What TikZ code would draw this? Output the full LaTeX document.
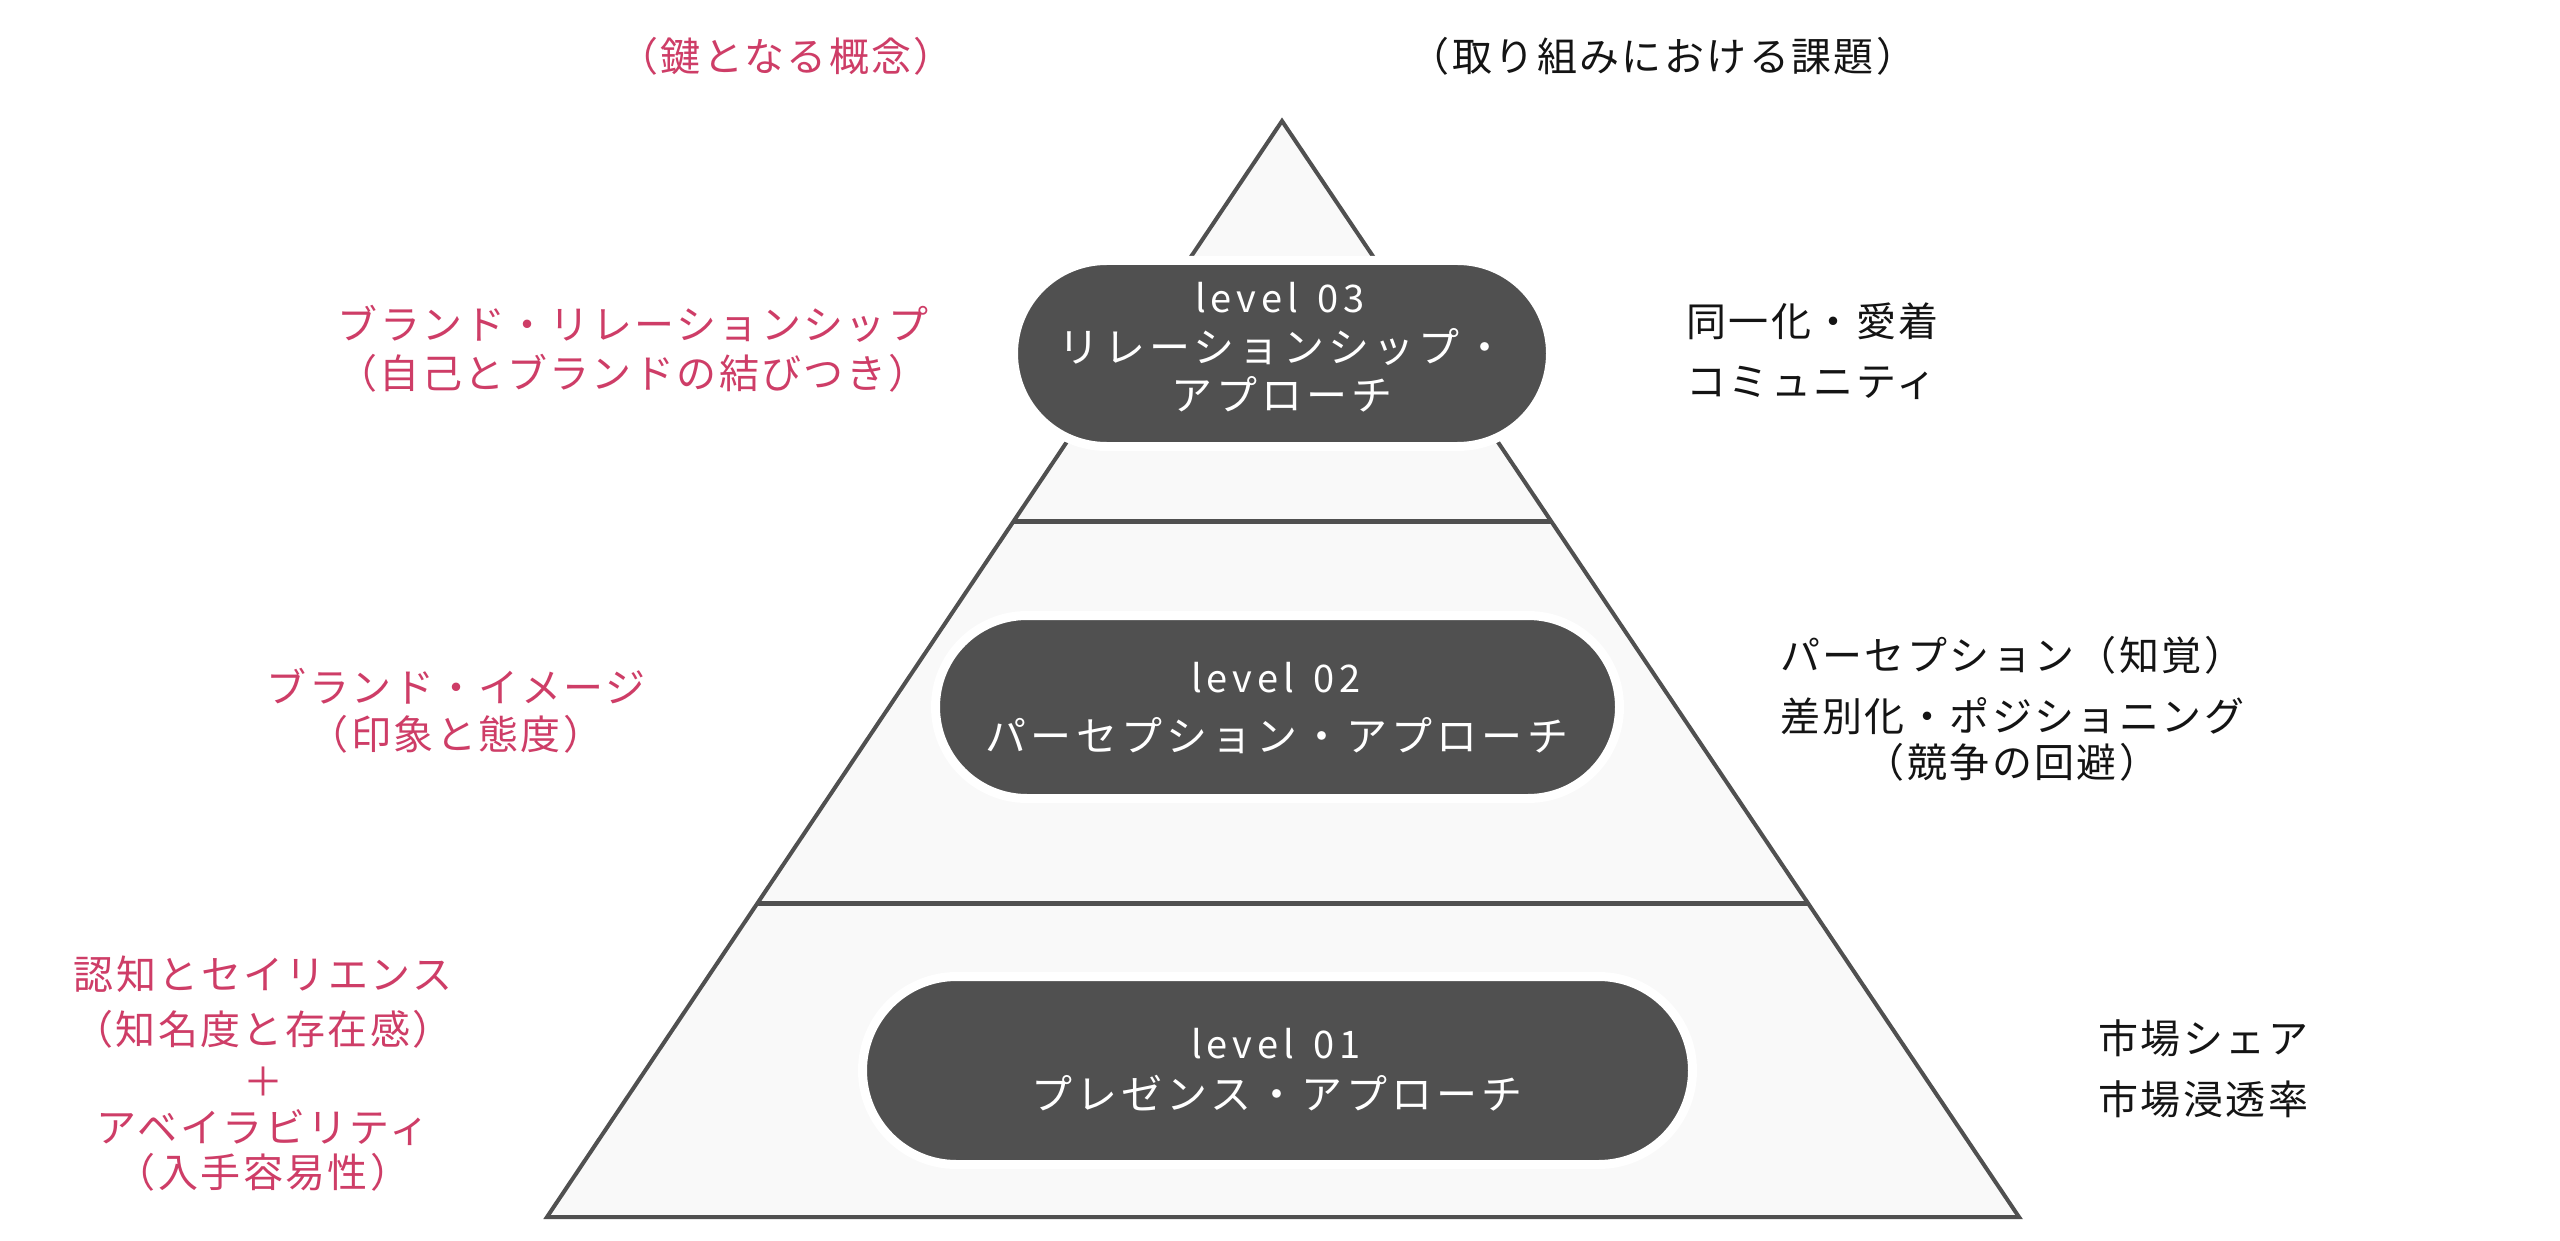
\documentclass[tikz,border=0pt]{standalone}
\usepackage{fontspec}
\setmainfont{Noto Sans CJK JP}
\newfontfamily\jptext[LetterSpace=6]{Noto Sans CJK JP}
\newfontfamily\jpbox[LetterSpace=10]{Noto Sans CJK JP}
\newfontfamily\jplevel[LetterSpace=13]{Noto Sans CJK JP}
\usetikzlibrary{calc}
\definecolor{pinkc}{RGB}{206,61,103}
\definecolor{boxgray}{RGB}{80,80,80}
\definecolor{linegray}{RGB}{80,80,80}
\definecolor{trifill}{RGB}{249,249,249}
\definecolor{darktxt}{RGB}{20,20,20}
\newcommand{\lvgap}{\hspace{3pt}}
\begin{document}
\begin{tikzpicture}[x=0.5pt,y=-0.5pt,
  pinktxt/.style={text=pinkc, font=\jptext\fontsize{20pt}{24pt}\selectfont, anchor=base, inner sep=0pt},
  blacktxt/.style={text=darktxt, font=\jptext\fontsize{20pt}{24pt}\selectfont, anchor=base, inner sep=0pt},
  pill/.style={fill=boxgray, draw=white, line width=4.5pt, inner sep=0pt},
  levtxt/.style={text=white, font=\jplevel\fontsize{19pt}{22pt}\selectfont, anchor=base, inner sep=0pt},
  boxtxt/.style={text=white, font=\jpbox\fontsize{20.5pt}{24pt}\selectfont, anchor=base, inner sep=0pt},
  edge/.style={draw=linegray, line width=2pt},
  band/.style={draw=linegray, line width=2.5pt}]
\useasboundingbox[fill=white] (0,0) rectangle (2560,1241);

% pyramid
\coordinate (apex) at (1282,121);
\coordinate (bl) at (547,1217);
\coordinate (br) at (2019,1217);
\fill[trifill] (apex) -- (bl) -- (br) -- cycle;
\draw[edge] (apex) -- (bl) -- (br) -- cycle;
\coordinate (d1l) at ($(apex)!0.365!(bl)$);
\coordinate (d1r) at ($(apex)!0.365!(br)$);
\coordinate (d2l) at ($(apex)!0.7135!(bl)$);
\coordinate (d2r) at ($(apex)!0.7135!(br)$);
\draw[band] (d1l) -- (d1r);
\draw[band] (d2l) -- (d2r);

% level boxes
\node[pill, minimum width=268.5pt, minimum height=93pt, rounded corners=46.5pt] (b3) at (1282,353.5) {};
\node[pill, minimum width=342pt, minimum height=91.5pt, rounded corners=45.75pt] (b2) at (1277.5,707) {};
\node[pill, minimum width=415pt, minimum height=94pt, rounded corners=47pt] (b1) at (1277.5,1070.5) {};

\node[levtxt] (l3) at (1280,313) {level\lvgap{} 03};
\node[boxtxt] (t3a) at (1282,363) {リレーションシップ・};
\node[boxtxt] (t3b) at (1282,410) {アプローチ};
\node[levtxt] (l2) at (1276,692) {level\lvgap{} 02};
\node[boxtxt] (t2) at (1277,751) {パーセプション・アプローチ};
\node[levtxt] (l1) at (1276,1058) {level\lvgap{} 01};
\node[boxtxt] (t1) at (1277,1109) {プレゼンス・アプローチ};

% left: key concepts
\node[pinktxt] (hl) at (786,72) {（鍵となる概念）};
\node[pinktxt] (p3a) at (633,340) {ブランド・リレーションシップ};
\node[pinktxt] (p3b) at (633,388) {（自己とブランドの結びつき）};
\node[pinktxt] (p2a) at (456,702) {ブランド・イメージ};
\node[pinktxt] (p2b) at (456,749) {（印象と態度）};
\node[pinktxt] (p1a) at (263,989) {認知とセイリエンス};
\node[pinktxt] (p1b) at (263,1044) {（知名度と存在感）};
\node[pinktxt] (p1c) at (263,1096) {＋};
\node[pinktxt] (p1d) at (263,1142) {アベイラビリティ};
\node[pinktxt] (p1e) at (263,1187) {（入手容易性）};

% right: challenges
\node[blacktxt] (hr) at (1663,72) {（取り組みにおける課題）};
\node[blacktxt, anchor=base west] (r3a) at (1686,336) {同一化・愛着};
\node[blacktxt, anchor=base west] (r3b) at (1686,396) {コミュニティ};
\node[blacktxt] (r2a) at (2012,670) {パーセプション（知覚）};
\node[blacktxt] (r2b) at (2012,731) {差別化・ポジショニング};
\node[blacktxt] (r2c) at (2012,777) {（競争の回避）};
\node[blacktxt, anchor=base west] (r1a) at (2098,1053) {市場シェア};
\node[blacktxt, anchor=base west] (r1b) at (2098,1114) {市場浸透率};
\end{tikzpicture}
\end{document}
